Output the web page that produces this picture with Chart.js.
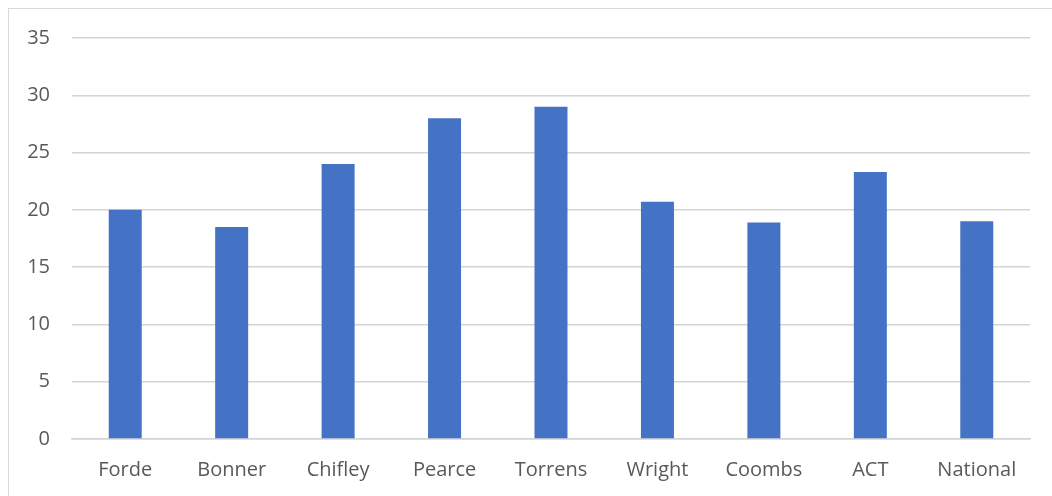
<!DOCTYPE html>
<html>
<head>
<meta charset="utf-8">
<script src="https://cdn.jsdelivr.net/npm/chart.js@4/dist/chart.umd.min.js"></script>
<style>
  html, body { margin: 0; padding: 0; background: #fff; overflow: hidden; }
  #frame { position: absolute; left: 8px; top: 8px; width: 1200px; height: 600px; border: 1px solid #d9d9d9; }
  #wrap { position: absolute; left: 0; top: 0; width: 1052px; height: 496px; }
</style>
</head>
<body>
<div id="frame"></div>
<div id="wrap"><canvas id="myChart"></canvas></div>
<script>
var categories = ['Forde', 'Bonner', 'Chifley', 'Pearce', 'Torrens', 'Wright', 'Coombs', 'ACT', 'National'];
var values = [20, 18.5, 24, 28, 29, 20.7, 18.9, 23.3, 19];
var yTicks = [0, 5, 10, 15, 20, 25, 30, 35];

const ctx = document.getElementById('myChart').getContext('2d');
const myChart = new Chart(ctx, {
  type: 'bar',
  data: {
    labels: categories,
    datasets: [{
      data: values,
      backgroundColor: '#4472c4',
      borderWidth: 0,
      categoryPercentage: 1,
      barPercentage: 0.31
    }]
  },
  options: {
    responsive: true,
    maintainAspectRatio: false,
    animation: false,
    layout: { padding: { left: 0, right: 22, top: 38, bottom: 0 } },
    plugins: { legend: { display: false }, tooltip: { enabled: false } },
    scales: {
      x: {
        grid: { display: false, drawTicks: false },
        border: { display: true, color: '#d4d4d4', width: 1.5 },
        ticks: { color: '#595959', font: { family: 'Open Sans', size: 20 }, padding: 19, maxRotation: 0 },
        afterFit: function (scale) { scale.height = 57; }
      },
      y: {
        min: 0,
        max: 35,
        afterBuildTicks: function (scale) {
          scale.ticks = yTicks.map(function (v) { return { value: v }; });
        },
        grid: { color: '#d4d4d4', lineWidth: 1.5, drawTicks: false },
        border: { display: false },
        ticks: { color: '#595959', font: { family: 'Open Sans', size: 20 }, padding: 22 },
        afterFit: function (scale) { scale.width = 72; }
      }
    }
  }
});
</script>
</body>
</html>
